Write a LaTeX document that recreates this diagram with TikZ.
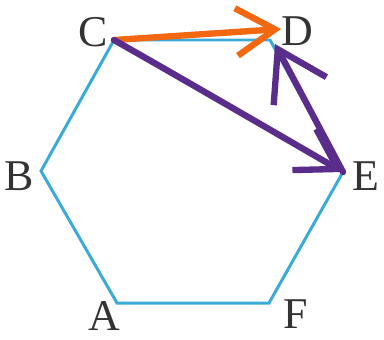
\documentclass[tikz,border=0pt]{standalone}
\usepackage{fontspec}
\setmainfont{Liberation Serif}
\usetikzlibrary{arrows.meta}
\definecolor{edgeblue}{HTML}{3AAAD8}
\definecolor{penorange}{HTML}{F2670F}
\definecolor{penpurple}{HTML}{5A2D8C}
\begin{document}
\begin{tikzpicture}[x=0.02cm, y=-0.02cm, every node/.style={inner sep=0pt, text=black!80, font=\fontsize{25}{30}\selectfont}, edge/.style={draw=edgeblue, line width=1.7pt, line join=miter}, pen/.style={line width=3.6pt, line cap=round, line join=round, -{Straight Barb[length=22pt, width=27pt, line width=3.6pt]}}, bigpen/.style={pen, -{Straight Barb[length=27pt, width=34pt, line width=3.6pt]}}]
\useasboundingbox (0,0) rectangle (384,339);
\coordinate (A) at (117,303);
\coordinate (B) at (41,171);
\coordinate (C) at (114,40);
\coordinate (D) at (270,40);
\coordinate (E) at (343,172);
\coordinate (F) at (269,303);
\coordinate (Dtip) at (281,29);
\coordinate (Dend) at (275,44);
\node (lA) at (104,316) {A};
\node (lB) at (19,176) {B};
\node (lC) at (93,32) {C};
\node (lD) at (297,31) {D};
\node (lE) at (366,176) {E};
\node (lF) at (296,314) {F};
\draw[edge] (A) -- (B) -- (C) -- (D) -- (E) -- (F) -- cycle;
\draw[pen, penorange] (C) -- (Dtip);
\draw[pen, penpurple] (C) .. controls (160,66) and (250,118) .. (E);
\draw[bigpen, penpurple] (E) -- (Dend);
\end{tikzpicture}
\end{document}
